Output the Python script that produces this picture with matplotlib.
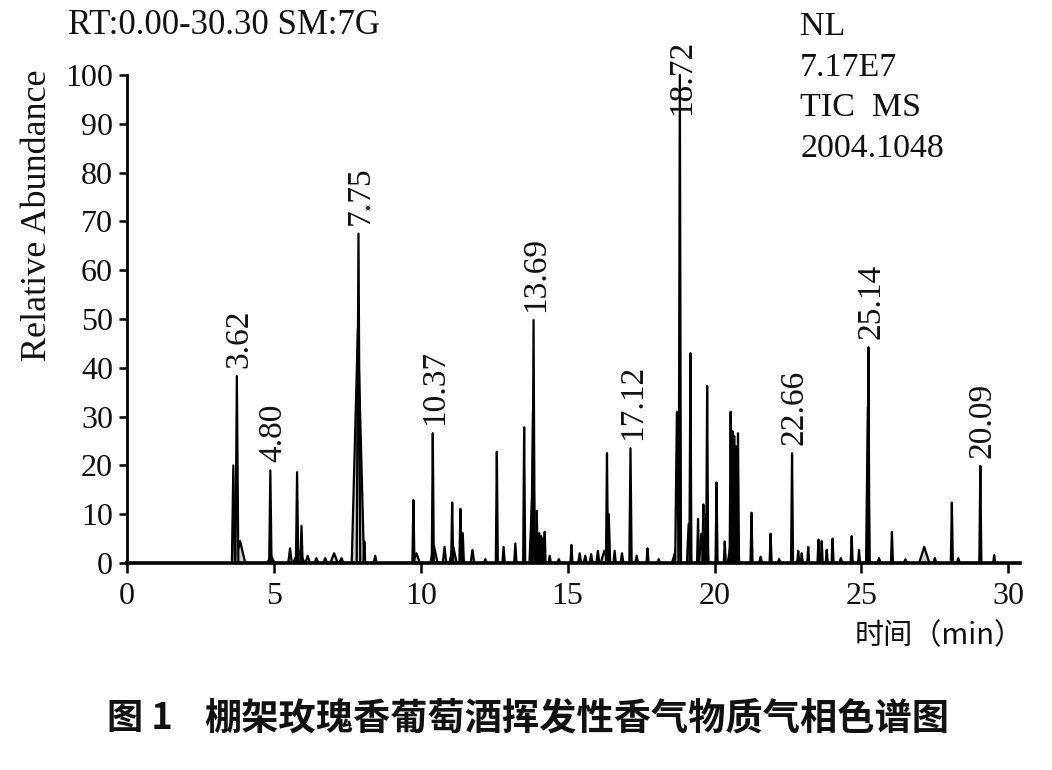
import matplotlib
matplotlib.use("Agg")
import matplotlib.pyplot as plt

# ---------------- data ----------------
# retention time (min), relative abundance (%), peak base width (min)
peak_times = [3.85, 4.90, 5.55, 5.85, 6.15, 6.45, 6.75, 7.05, 7.30,
              3.62, 3.74, 4.88, 5.79, 5.94, 7.86, 7.88, 8.08, 8.45,
              9.75, 9.85, 10.45, 10.41, 10.81, 11.10, 11.07, 11.35, 11.43, 11.76,
              12.20, 12.59, 12.82, 13.22, 13.52, 13.80, 13.82, 13.84,
              13.95, 14.03, 14.10, 14.16, 14.22, 14.39, 14.70,
              15.13, 15.41, 15.60, 15.80, 16.03, 16.25, 16.34, 16.40, 16.60, 16.85,
              17.14, 17.35, 17.72, 18.10, 18.70, 18.72, 18.82,
              19.12, 19.18, 19.44, 19.55, 19.62, 19.72, 19.75, 20.07, 20.35,
              20.65, 20.55, 20.62, 20.67, 20.73, 20.80, 21.26, 21.57, 21.91, 22.20,
              22.64, 22.85, 22.97, 23.19, 23.54, 23.65, 23.82, 24.02, 24.30,
              24.67, 24.92, 25.22, 25.24, 25.60, 26.04, 26.50, 27.14, 27.50,
              28.08, 28.30, 29.05, 29.52]
peak_heights = [4.5, 1.5, 3.0, 2.5, 1.5, 1.0, 1.0, 2.0, 1.0,
                20.0, 38.3, 19.0, 18.6, 7.6, 48.0, 67.5, 4.4, 1.5,
                12.9, 2.0, 3.5, 26.6, 3.3, 3.5, 12.4, 11.1, 6.1, 2.7,
                0.8, 22.8, 3.3, 4.0, 27.8, 15.0, 31.0, 49.8,
                10.7, 6.1, 5.5, 5.0, 6.4, 1.5, 0.8,
                3.7, 2.0, 1.5, 1.8, 2.5, 2.5, 22.5, 10.0, 2.5, 2.0,
                23.5, 1.5, 3.0, 0.8, 3.0, 31.0, 100.0,
                8.0, 43.0, 9.0, 6.0, 12.0, 10.0, 36.3, 16.5, 4.4,
                8.0, 31.0, 27.0, 26.0, 24.0, 26.6, 10.3, 1.3, 6.0, 0.8,
                22.5, 2.5, 2.0, 3.3, 4.8, 4.5, 2.7, 5.0, 1.0,
                5.5, 2.7, 32.0, 44.2, 1.0, 6.4, 0.8, 3.3, 1.0,
                12.4, 1.0, 19.9, 1.6]
peak_widths = [0.35, 0.25, 0.12, 0.40, 0.15, 0.12, 0.12, 0.25, 0.15,
               0.10, 0.10, 0.08, 0.08, 0.08, 0.42, 0.12, 0.06, 0.10,
               0.07, 0.25, 0.25, 0.07, 0.12, 0.25, 0.07, 0.07, 0.08, 0.12,
               0.10, 0.07, 0.08, 0.08, 0.07, 0.20, 0.12, 0.08,
               0.06, 0.06, 0.06, 0.06, 0.06, 0.08, 0.10,
               0.07, 0.10, 0.10, 0.10, 0.10, 0.25, 0.07, 0.10, 0.08, 0.10,
               0.08, 0.10, 0.07, 0.10, 0.30, 0.12, 0.08,
               0.12, 0.07, 0.07, 0.15, 0.07, 0.15, 0.07, 0.07, 0.07,
               0.40, 0.07, 0.07, 0.07, 0.07, 0.07, 0.07, 0.10, 0.07, 0.10,
               0.07, 0.07, 0.07, 0.07, 0.07, 0.07, 0.07, 0.07, 0.10,
               0.07, 0.07, 0.12, 0.07, 0.10, 0.07, 0.10, 0.35, 0.10,
               0.07, 0.10, 0.07, 0.07]

# labelled peaks: printed retention-time label and the peak it sits on
label_texts = ["3.62", "4.80", "7.75", "10.37", "13.69",
               "17.12", "18.72", "22.66", "25.14", "20.09"]
label_peak_times = [3.74, 4.88, 7.88, 10.41, 13.84,
                    17.14, 18.82, 22.64, 25.24, 29.05]

x_ticks = [0, 5, 10, 15, 20, 25, 30]
y_ticks = [0, 10, 20, 30, 40, 50, 60, 70, 80, 90, 100]

header_text = "RT:0.00-30.30 SM:7G"
info_lines = ["NL", "7.17E7", "TIC  MS", "2004.1048"]
y_label = "Relative Abundance"
x_label = "时间（min）"
caption_num = "图 1"
caption_text = "棚架玫瑰香葡萄酒挥发性香气物质气相色谱图"

# ---------------- drawing ----------------
W, H = 1052, 770
fig = plt.figure(figsize=(W / 100, H / 100), dpi=100)
fig.patch.set_facecolor("white")

def px(x, y):
    return x / W, 1 - y / H

ax = fig.add_axes([127 / W, 1 - 563 / H, (1020 - 127) / W, (563 - 75) / H])
ax.set_xlim(0, 30.4)
ax.set_ylim(0, 100)

serif = "Liberation Serif"
ink = "#111111"

# draw broad (filled) peaks first, then narrow ones on top
order = sorted(range(len(peak_times)), key=lambda i: -peak_widths[i])
for i in order:
    t, h, w = peak_times[i], peak_heights[i], peak_widths[i]
    ax.fill([t - w / 2, t, t + w / 2], [0, h, 0],
            facecolor="#cfcfcf", edgecolor="black", linewidth=1.6,
            joinstyle="round", clip_on=False, zorder=3)

# peak labels
for txt, t in zip(label_texts, label_peak_times):
    h = peak_heights[peak_times.index(t)]
    y = min(h + 1.7, 91.8)
    ax.text(t + 0.08, y, txt, rotation=90, ha="center", va="bottom",
            fontsize=24, fontfamily=serif, color=ink, zorder=4)

for s in ["top", "right"]:
    ax.spines[s].set_visible(False)
ax.spines["left"].set_linewidth(2.0)
ax.spines["bottom"].set_linewidth(2.6)
ax.spines["left"].set_zorder(5)
ax.spines["bottom"].set_zorder(5)

ax.set_xticks(x_ticks)
ax.set_xticklabels([str(v) for v in x_ticks])
ax.set_yticks(y_ticks)
ax.set_yticklabels([str(v) for v in y_ticks])
ax.tick_params(axis="x", direction="out", length=7.5, width=1.8, pad=6)
ax.tick_params(axis="y", direction="out", length=6, width=1.8, pad=4)
for lab in ax.get_xticklabels() + ax.get_yticklabels():
    lab.set_fontfamily(serif)
    lab.set_fontsize(23)
    lab.set_color(ink)

# texts around the plot
fig.text(*px(68, 25), header_text, ha="left", va="center",
         fontsize=25, fontfamily=serif, color=ink)
for k, line in enumerate(info_lines):
    fig.text(*px(800, 27 + k * 40.5), line, ha="left", va="center",
             fontsize=24.5, fontfamily=serif, color=ink)
fig.text(*px(38, 215), y_label, rotation=90, ha="center", va="center",
         fontsize=26, fontfamily=serif, color=ink)
fig.text(*px(1024, 636), x_label, ha="right", va="center",
         fontsize=21, fontfamily=["Noto Sans CJK SC", "DejaVu Sans"], color=ink)
fig.text(*px(107, 719), caption_num, ha="left", va="center",
         fontsize=26, fontfamily=["Noto Sans CJK SC", "DejaVu Sans"],
         fontweight="bold", color=ink)
fig.text(*px(204, 719), caption_text, ha="left", va="center",
         fontsize=26.8, fontfamily=["Noto Sans CJK SC", "DejaVu Sans"],
         fontweight="bold", color=ink)

fig.savefig("out.png", dpi=100, facecolor="white")
